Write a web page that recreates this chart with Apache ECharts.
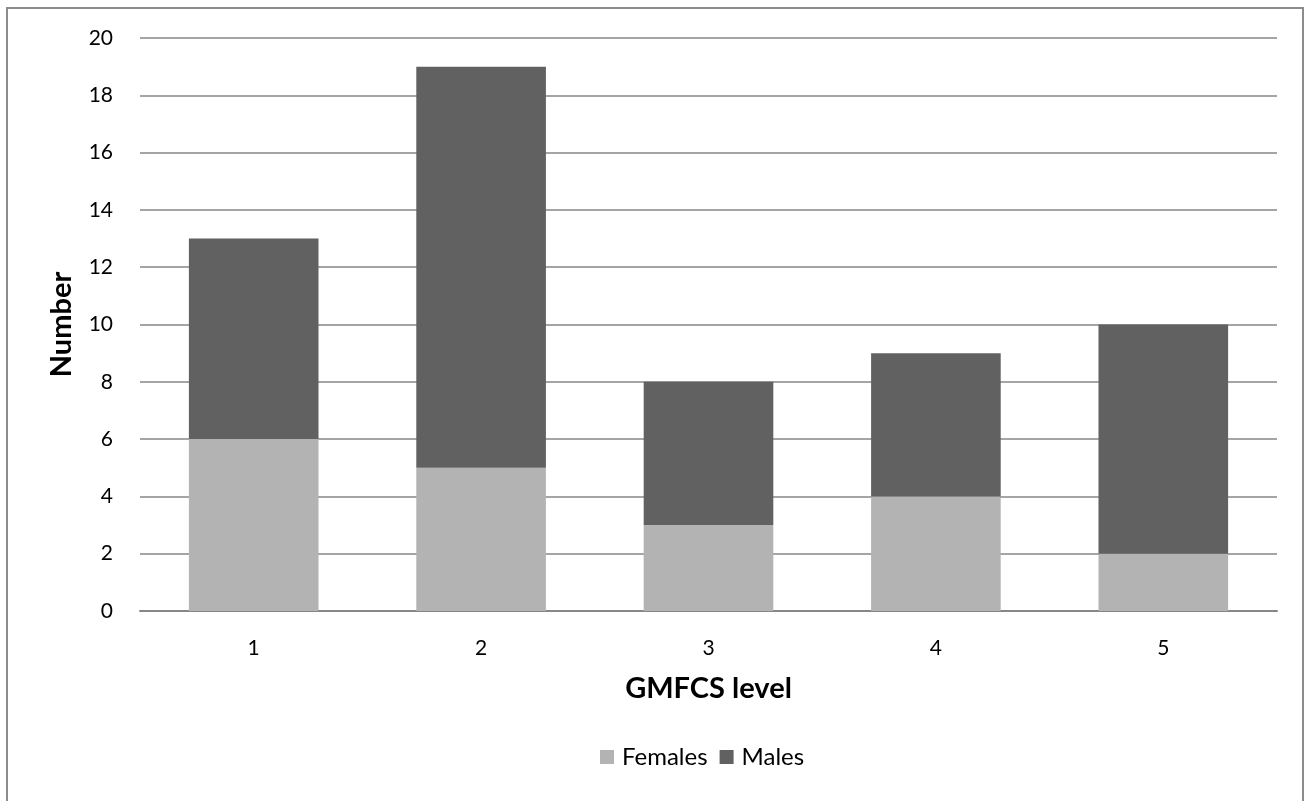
<!DOCTYPE html>
<html><head><meta charset="utf-8">
<script src="https://cdn.jsdelivr.net/npm/echarts@6/dist/echarts.min.js"></script>
<style>
html,body{margin:0;padding:0;background:#fff;}
#frame{position:absolute;left:6px;top:7px;width:1298px;height:820px;border:2px solid #8c8c8c;box-sizing:border-box;}
#c{position:absolute;left:0;top:0;width:1311px;height:801px;}
</style></head>
<body>
<div id="frame"></div>
<div id="c"></div>
<script>
const categories = ['1','2','3','4','5'];
const females = [6, 5, 3, 4, 2];
const males = [7, 14, 5, 5, 8];
const seriesNames = ['Females', 'Males'];
const fontFam = 'Lato, "Open Sans", sans-serif';
const chart = echarts.init(document.getElementById('c'));
chart.setOption({
  animation: false,
  backgroundColor: 'transparent',
  grid: {left: 140, right: 34, top: 38, bottom: 190, containLabel: false},
  legend: {
    data: seriesNames, top: 745, left: 600, padding: 0, icon: 'rect', itemWidth: 14, itemHeight: 14, itemGap: 12,
    textStyle: {fontFamily: fontFam, fontSize: 24, color: '#000', padding: [0, 0, 0, 3]}
  },
  xAxis: {
    type: 'category', data: categories,
    name: 'GMFCS level', nameLocation: 'middle', nameGap: 63,
    nameTextStyle: {fontFamily: fontFam, fontSize: 29, fontWeight: 'bold', color: '#000'},
    axisLine: {lineStyle: {color: '#878787', width: 2}},
    axisTick: {show: false},
    axisLabel: {fontFamily: fontFam, fontSize: 21, color: '#000', margin: 27}
  },
  yAxis: {
    type: 'value', min: 0, max: 20, interval: 2,
    name: 'Number', nameLocation: 'middle', nameGap: 64,
    nameTextStyle: {fontFamily: fontFam, fontSize: 29, fontWeight: 'bold', color: '#000'},
    axisLine: {show: false}, axisTick: {show: false},
    axisLabel: {fontFamily: fontFam, fontSize: 21, color: '#000', margin: 27},
    splitLine: {lineStyle: {color: '#878787', width: 1.5}}
  },
  series: [
    {name: seriesNames[0], type: 'bar', stack: 't', data: females, barWidth: '57%', itemStyle: {color: '#b3b3b3'}},
    {name: seriesNames[1], type: 'bar', stack: 't', data: males, barWidth: '57%', itemStyle: {color: '#616161'}}
  ]
});
</script>
</body></html>
